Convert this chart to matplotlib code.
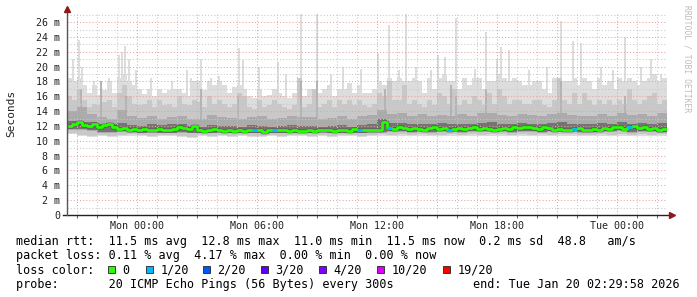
import numpy as np
import matplotlib
matplotlib.use('Agg')
import matplotlib.pyplot as plt
from matplotlib.patches import Rectangle

# smoke / median values in ms, one value per 15 min (start Sun 20:30)
MAX_MS = [18.5, 18.0, 18.5, 17.5, 16.5, 17.5, 16.2, 16.8, 18.0, 16.5,
          18.5, 19.0, 18.0, 17.5, 17.0, 16.3, 17.0, 16.0, 17.0, 16.5,
          16.8, 17.0, 17.0, 16.5, 16.0, 18.0, 18.0, 16.8, 18.0, 17.5,
          18.0, 17.5, 16.5, 17.2, 17.5, 17.0, 16.0, 15.8, 17.0, 16.0,
          16.2, 17.0, 16.5, 16.0, 15.8, 16.5, 17.0, 16.0, 17.0, 16.5,
          16.5, 17.0, 17.5, 16.0, 17.0, 17.0, 17.8, 16.5, 17.5, 16.5,
          16.5, 17.0, 18.0, 17.5, 18.5, 18.0, 18.5, 18.0, 18.0, 18.5,
          18.0, 16.5, 18.5, 17.0, 18.5, 19.0, 18.0, 18.0, 17.0, 18.5,
          17.5, 18.5, 18.5, 17.0, 18.0, 18.0, 19.0, 18.5, 18.0, 18.5,
          18.0, 17.5, 17.5, 18.0, 18.0, 17.0, 16.5, 18.5, 18.5, 18.0,
          18.0, 18.5, 17.5, 18.5, 18.0, 17.0, 18.5, 17.5, 18.0, 17.0,
          18.5, 18.0, 18.5, 18.0, 17.5, 18.0, 18.5, 19.0, 18.0, 18.5]

UPPER2_MS = [16.0, 15.5, 17.0, 15.5, 14.5, 15.0, 14.8, 15.2, 15.5, 14.5,
             16.5, 17.5, 16.0, 15.0, 14.8, 15.0, 15.5, 14.5, 15.5, 14.8,
             15.0, 14.5, 16.0, 15.0, 14.8, 15.5, 15.2, 14.5, 16.0, 15.0,
             15.5, 15.0, 14.5, 15.0, 16.5, 16.0, 14.5, 14.3, 15.5, 14.5,
             14.8, 15.5, 15.0, 14.5, 14.3, 14.8, 18.5, 14.5, 15.0, 17.0,
             14.5, 15.0, 15.5, 14.5, 15.5, 15.0, 15.5, 14.8, 15.5, 14.8,
             14.5, 15.0, 16.5, 16.0, 18.0, 15.5, 15.5, 17.5, 15.0, 15.5,
             15.0, 14.5, 15.5, 14.8, 16.5, 16.0, 15.0, 17.0, 14.8, 15.5,
             15.0, 16.0, 15.5, 14.8, 16.5, 15.0, 17.0, 16.0, 15.0, 15.5,
             15.5, 15.0, 15.0, 15.5, 15.5, 14.8, 14.5, 15.5, 18.5, 15.5,
             15.0, 16.5, 15.0, 16.5, 15.5, 14.8, 15.5, 15.0, 15.5, 14.8,
             15.5, 15.0, 17.0, 15.5, 15.0, 15.5, 16.0, 16.5, 15.0, 15.5]

MEDIAN_MS = [12.0, 12.2, 12.6, 12.1, 12.0, 12.3, 11.9, 12.1, 12.2, 11.8,
             11.6, 11.7, 11.5, 11.6, 11.5, 11.6, 11.5, 11.4, 11.6, 11.5,
             11.5, 11.6, 11.9, 11.7, 11.6, 12.0, 11.5, 11.3, 11.4, 11.6,
             11.4, 11.3, 11.4, 11.3, 11.4, 11.3, 11.5, 11.4, 11.5, 11.2,
             11.4, 11.5, 11.4, 11.4, 11.3, 11.4, 11.3, 11.3, 11.4, 11.3,
             11.4, 11.5, 11.4, 11.3, 11.5, 11.4, 11.3, 11.6, 11.4, 11.5,
             11.5, 11.4, 11.5, 12.6, 11.7, 11.6, 11.8, 11.7, 11.6, 11.7,
             11.6, 11.5, 11.7, 11.8, 11.6, 11.7, 11.5, 11.6, 11.7, 11.6,
             11.7, 11.8, 11.6, 11.7, 11.6, 11.5, 11.6, 11.7, 11.6, 11.8,
             11.7, 11.9, 11.8, 11.7, 11.6, 11.8, 11.7, 11.5, 11.6, 11.4,
             11.5, 11.6, 11.7, 11.5, 11.4, 11.6, 11.5, 11.7, 11.6, 11.8,
             11.9, 11.6, 11.8, 12.0, 11.7, 11.8, 11.6, 11.7, 11.5, 11.6]

# lost pings (out of 20) per 15 min step
LOSS = [0] * 120
for i in [37, 41, 58, 64, 76, 101, 112]:
    LOSS[i] = 1

# inner smoke bands, one value per 30 min
UPPER3_MS = [14.0, 14.5, 13.6, 13.2, 13.0, 14.2, 13.3, 13.1, 13.4, 13.0,
             13.2, 13.3, 13.0, 12.9, 13.5, 13.2, 13.1, 13.0, 13.2, 13.3,
             13.0, 13.1, 13.4, 13.2, 13.2, 13.0, 13.1, 13.3, 13.0, 13.4,
             13.5, 14.2, 13.6, 13.8, 13.3, 13.6, 13.4, 13.5, 13.3, 13.6,
             13.4, 13.7, 13.8, 13.5, 13.4, 13.6, 13.5, 13.3, 13.6, 13.8,
             13.5, 13.4, 13.3, 13.6, 13.4, 13.8, 13.5, 13.6, 13.4, 13.7]
UPPER4_MS = [12.7, 12.6, 12.5, 12.3, 12.2, 12.4, 12.1, 12.0, 12.2, 12.1,
             12.2, 12.3, 12.0, 11.9, 12.1, 12.0, 12.0, 11.9, 12.1, 12.0,
             11.9, 12.0, 12.1, 12.0, 12.0, 11.9, 12.0, 12.1, 11.9, 12.1,
             12.2, 12.9, 12.4, 12.4, 12.2, 12.3, 12.3, 12.4, 12.2, 12.3,
             12.3, 12.4, 12.5, 12.2, 12.3, 12.4, 12.3, 12.2, 12.4, 12.5,
             12.3, 12.2, 12.3, 12.4, 12.2, 12.6, 12.3, 12.4, 12.2, 12.4]
LOW_MS = [11.5, 11.5, 11.3, 11.1, 11.1, 11.2, 11.1, 11.0, 11.1, 11.0,
          11.0, 11.1, 11.0, 11.0, 11.0, 11.1, 11.0, 11.0, 11.0, 11.0,
          11.0, 11.0, 11.0, 11.0, 11.0, 11.1, 11.0, 11.0, 11.0, 11.0,
          11.1, 11.1, 11.2, 11.2, 11.1, 11.2, 11.1, 11.2, 11.2, 11.1,
          11.2, 11.2, 11.2, 11.2, 11.1, 11.2, 11.2, 11.1, 11.2, 11.2,
          11.2, 11.1, 11.1, 11.2, 11.2, 11.3, 11.1, 11.2, 11.2, 11.1]
MIN_MS = [10.9, 10.6, 10.5, 10.6, 10.5, 10.6, 10.7, 10.6, 10.5, 10.6,
          10.6, 10.5, 10.4, 10.6, 10.5, 10.6, 10.5, 10.6, 10.5, 10.5,
          10.6, 10.5, 10.6, 10.6, 10.5, 10.6, 10.5, 10.6, 10.6, 10.5,
          10.6, 10.7, 10.6, 10.7, 10.6, 10.7, 10.6, 10.6, 10.7, 10.6,
          10.7, 10.6, 10.7, 10.7, 10.6, 10.7, 10.6, 10.7, 10.6, 10.7,
          10.7, 10.6, 10.6, 10.7, 10.6, 10.7, 10.6, 10.7, 10.6, 10.7]

# single 5 min samples with a high max ping (hours after Sun 20:30)
SPIKE_HOURS = [0.25, 0.55, 0.7, 1.3, 2.05, 2.55, 2.7, 2.85, 3.05, 3.4,
               4.15, 5.2, 5.95, 6.15, 6.65, 7.15, 7.55, 8.55, 8.75, 9.55,
               10.5, 10.9, 11.65, 12.45, 13.15, 13.75, 14.65, 15.5, 16.05, 16.55,
               16.9, 17.4, 18.15, 18.5, 18.85, 19.4, 20.35, 20.9, 21.45, 21.65,
               22.05, 23.05, 23.95, 24.65, 25.25, 25.65, 26.65, 27.25, 27.85, 28.65,
               29.15, 29.65]
SPIKE_MS = [21.0, 23.6, 20.0, 18.0, 18.5, 21.5, 22.0, 22.8, 21.0, 19.5,
            18.5, 18.0, 19.6, 18.5, 21.0, 18.5, 18.7, 22.5, 20.9, 20.0,
            20.6, 19.0, 27.1, 27.1, 19.0, 20.0, 19.7, 21.8, 25.6, 19.5,
            27.1, 20.0, 19.5, 21.5, 21.3, 26.5, 19.7, 24.7, 21.0, 22.6,
            22.2, 19.5, 20.0, 26.1, 23.5, 23.2, 20.0, 19.5, 24.0, 20.0,
            21.0, 19.0]
# darker inner spikes
DSPIKE_HOURS = [0.65, 1.65, 2.9, 6.65, 8.5, 11.65, 12.45, 15.85, 19.15, 19.4,
                20.9, 24.65, 27.85]
DSPIKE_MS = [17.0, 18.0, 16.0, 17.0, 16.0, 18.0, 18.0, 17.0, 17.5, 16.0,
             17.0, 18.0, 16.0]

TICK_LABELS = ['Mon 00:00', 'Mon 06:00', 'Mon 12:00', 'Mon 18:00', 'Tue 00:00']
TICK_HOURS = [3.5, 9.5, 15.5, 21.5, 27.5]

LOSS_NAMES = ['0', '1/20', '2/20', '3/20', '4/20', '10/20', '19/20']
LOSS_COLORS = ['#26ff00', '#00b8ff', '#0059ff', '#5e00ff', '#7e00ff', '#dd00ff', '#ff0000']

W, H = 697, 297
MONO = 'DejaVu Sans Mono'


def steps(vals, width):
    """x edges and y values for a post step fill"""
    v = np.asarray(vals, dtype=float)
    x = np.arange(len(v) + 1) * width
    return x, np.append(v, v[-1])


def fx(px):
    return px / W


def fy(py):
    return 1 - py / H


fig = plt.figure(figsize=(W / 100, H / 100), dpi=100)
fig.patch.set_facecolor('white')
ax = fig.add_axes([fx(67), fy(215), 600 / W, 203 / H])
ax.set_xlim(0, 30)
ax.set_ylim(0, 27.36)

# smoke, outer bands first
x15, mx = steps(MAX_MS, 0.25)
_, u2 = steps(UPPER2_MS, 0.25)
x30, mn = steps(MIN_MS, 0.5)
_, lo = steps(LOW_MS, 0.5)
_, u3 = steps(UPPER3_MS, 0.5)
_, u4 = steps(UPPER4_MS, 0.5)
ax.fill_between(x30, mn, 12, step='post', color='#dddddd', lw=0, zorder=1)
ax.fill_between(x15, 12, mx, step='post', color='#dddddd', lw=0, zorder=1)
ax.bar(SPIKE_HOURS, np.array(SPIKE_MS) - 12, bottom=12, width=0.1, align='edge',
       color='#dddddd', lw=0, zorder=1)
ax.fill_between(x30, mn + 0.15, 12, step='post', color='#c8c8c8', lw=0, zorder=1.1)
ax.fill_between(x15, 12, u2, step='post', color='#c8c8c8', lw=0, zorder=1.1)
ax.bar(DSPIKE_HOURS, np.array(DSPIKE_MS) - 12, bottom=12, width=0.08, align='edge',
       color='#b4b4b4', lw=0, zorder=1.15)
ax.fill_between(x30, lo, u3, step='post', color='#ababab', lw=0, zorder=1.2)
ax.fill_between(x30, lo + 0.1, u4, step='post', color='#747474', lw=0, zorder=1.3)

# grid on top of smoke
for h in np.arange(0.5, 30, 1.0):
    major = (h - 0.5) % 3 == 0
    ax.axvline(h, color='#eba0a0' if major else '#c8c8c8', lw=0.75,
               ls=(0, (1, 2)), zorder=3)
for v in range(1, 28):
    ax.axhline(v, color='#eba0a0' if v % 2 == 0 else '#c8c8c8', lw=0.75,
               ls=(0, (1, 2)), zorder=3)

# median line, coloured by loss
xm, ym = steps(MEDIAN_MS, 0.25)
ax.step(xm, ym, where='post', color='#3a3a3a', lw=2.5, zorder=3.9)
ax.step(xm, ym, where='post', color=LOSS_COLORS[0], lw=2.0, zorder=4)
for i, n in enumerate(LOSS):
    if n > 0:
        ax.hlines(MEDIAN_MS[i], i * 0.25, (i + 1) * 0.25,
                  color=LOSS_COLORS[n], lw=2.0, zorder=5)

# axes
for s in ax.spines.values():
    s.set_visible(False)
ax.plot([-4 / 600, 604 / 600], [0, 0], transform=ax.transAxes, color='#222222',
        lw=1.0, clip_on=False, zorder=6)
ax.plot([0, 0], [0, 206 / 203], transform=ax.transAxes, color='#555555',
        lw=1.0, clip_on=False, zorder=6)
ax.plot(605 / 600, 0, marker='>', ms=4, color='#8b1a1a', transform=ax.transAxes,
        clip_on=False, zorder=7)
ax.plot(0, 206 / 203, marker='^', ms=4, color='#8b1a1a', transform=ax.transAxes,
        clip_on=False, zorder=7)

ax.set_yticks(range(0, 27, 2))
ax.set_yticklabels(['0'] + ['%d m' % v for v in range(2, 27, 2)])
ax.set_xticks(TICK_HOURS)
ax.set_xticklabels(TICK_LABELS)
ax.set_xticks(np.arange(0.5, 30, 1.0), minor=True)
ax.tick_params(axis='y', length=0, pad=5, labelsize=7.2, labelcolor='#222222')
ax.tick_params(axis='x', length=0, pad=4, labelsize=7.2, labelcolor='#222222')
ax.tick_params(axis='x', which='minor', length=2, color='#444444', direction='out')
for lab in ax.get_xticklabels() + ax.get_yticklabels():
    lab.set_family(MONO)

fig.text(fx(11), fy(113), 'Seconds', rotation=90, ha='center', va='center',
         fontsize=8, family=MONO, color='#222222')
fig.text(fx(687), fy(5), 'RRDTOOL / TOBI OETIKER', rotation=270, ha='center',
         va='top', fontsize=5.8, family=MONO, color='#bbbbbb')

# legend block
fs = 8.5
fig.text(fx(16), fy(245), 'median rtt:  11.5 ms avg  12.8 ms max  11.0 ms min  '
         '11.5 ms now  0.2 ms sd  48.8   am/s', fontsize=fs, family=MONO,
         va='baseline')
fig.text(fx(16), fy(259), 'packet loss: 0.11 % avg  4.17 % max  0.00 % min  0.00 % now',
         fontsize=fs, family=MONO, va='baseline')
fig.text(fx(16), fy(273.5), 'loss color:', fontsize=fs, family=MONO, va='baseline')
sq_x = [108, 146, 203, 261, 319, 377, 443]
for px, name, col in zip(sq_x, LOSS_NAMES, LOSS_COLORS):
    fig.patches.append(Rectangle((fx(px), fy(273)), 7 / W, 7 / H, transform=fig.transFigure,
                                 facecolor=col, edgecolor='#222222', lw=0.6))
    fig.text(fx(px + 14.5), fy(273.5), name, fontsize=fs, family=MONO, va='baseline')
fig.text(fx(16), fy(288), 'probe:       20 ICMP Echo Pings (56 Bytes) every 300s',
         fontsize=fs, family=MONO, va='baseline')
fig.text(fx(680), fy(288), 'end: Tue Jan 20 02:29:58 2026', fontsize=fs, family=MONO,
         va='baseline', ha='right')

fig.savefig('out.png', dpi=100, facecolor='white')
